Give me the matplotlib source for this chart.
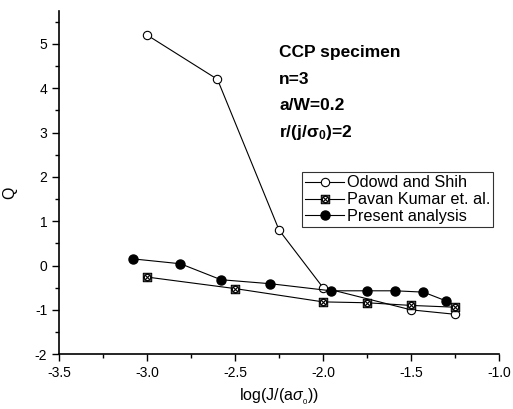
import matplotlib
matplotlib.use('Agg')
import matplotlib.pyplot as plt
from matplotlib.path import Path
import numpy as np

plt.rcParams['font.family'] = ['Liberation Sans', 'DejaVu Sans']
plt.rcParams['mathtext.fontset'] = 'custom'
plt.rcParams['mathtext.rm'] = 'Liberation Sans'
plt.rcParams['mathtext.it'] = 'Liberation Sans:italic'
plt.rcParams['mathtext.bf'] = 'Liberation Sans:bold'

# Data
odowd_x = [-3.0, -2.6, -2.25, -2.0, -1.5, -1.25]
odowd_q = [5.2, 4.2, 0.8, -0.5, -1.0, -1.1]

pavan_x = [-3.0, -2.5, -2.0, -1.75, -1.5, -1.25]
pavan_q = [-0.26, -0.52, -0.82, -0.84, -0.9, -0.94]

present_x = [-3.08, -2.81, -2.58, -2.3, -1.955, -1.75, -1.59, -1.43, -1.3]
present_q = [0.15, 0.04, -0.32, -0.41, -0.57, -0.57, -0.57, -0.6, -0.8]

# square with a cross and circle inside
sq = Path([(-1, -1), (1, -1), (1, 1), (-1, 1), (-1, -1)],
          [Path.MOVETO, Path.LINETO, Path.LINETO, Path.LINETO, Path.CLOSEPOLY])
circ = Path.circle((0, 0), 0.75)
d1 = Path([(-0.75, -0.75), (0.75, 0.75)], [Path.MOVETO, Path.LINETO])
d2 = Path([(-0.75, 0.75), (0.75, -0.75)], [Path.MOVETO, Path.LINETO])
box_x = Path.make_compound_path(sq, circ, d1, d2)

fig = plt.figure(figsize=(5.13, 4.09), dpi=100)
ax = fig.add_axes([0.115, 0.134, 0.858, 0.84])

ax.plot(odowd_x, odowd_q, '-', color='black', lw=0.8, marker='o', ms=6,
        mfc='white', mec='black', mew=0.8, label='Odowd and Shih')
ax.plot(pavan_x, pavan_q, '-', color='black', lw=0.8, marker=box_x, ms=6,
        mfc='white', mec='black', mew=0.8, label='Pavan Kumar et. al.')
ax.plot(present_x, present_q, '-', color='black', lw=0.8, marker='o', ms=6.5,
        mfc='black', mec='black', label='Present analysis')

ax.set_xlim(-3.5, -1.0)
ax.set_ylim(-2, 5.75)
ax.set_xticks(np.arange(-3.5, -0.99, 0.5))
ax.set_xticklabels(['-3.5', '-3.0', '-2.5', '-2.0', '-1.5', '-1.0'])
ax.set_xticks(np.arange(-3.25, -1.0, 0.5), minor=True)
ax.set_yticks(np.arange(-2, 6, 1))
ax.set_yticklabels(['-2', '-1', '0', '1', '2', '3', '4', '5'])
ax.set_yticks(np.arange(-1.5, 5.6, 1), minor=True)

for s in ['top', 'right']:
    ax.spines[s].set_visible(False)
for s in ['left', 'bottom']:
    ax.spines[s].set_linewidth(1.2)
ax.tick_params(which='major', direction='out', length=5, width=1, labelsize=10)
ax.tick_params(which='minor', direction='out', length=3, width=1)

ax.set_xlabel(r'log(J/(a$\sigma_{_0}$))', fontsize=11.5)
ax.xaxis.set_label_coords(0.5, -0.095)
ax.set_ylabel('Q', fontsize=11.5)
ax.yaxis.set_label_coords(-0.095, 0.47)

# annotation block
notes = ['CCP specimen', 'n=3', 'a/W=0.2', r'r/(j/$\mathbf{\sigma_0}$)=2']
for i, t in enumerate(notes):
    fig.text(279 / 513, 1 - (57 + 26.5 * i) / 409, t, fontsize=12.5,
             fontweight='bold', va='baseline', ha='left')

leg = ax.legend(loc='upper left', bbox_to_anchor=(302 / 513, 1 - 172 / 409),
                bbox_transform=fig.transFigure, fontsize=11.7, frameon=True,
                fancybox=False, edgecolor='black', handlelength=2.4,
                handletextpad=0.15, borderpad=0.2, labelspacing=0.12,
                borderaxespad=0)
leg.get_frame().set_linewidth(0.8)

fig.savefig('out.png', dpi=100)
